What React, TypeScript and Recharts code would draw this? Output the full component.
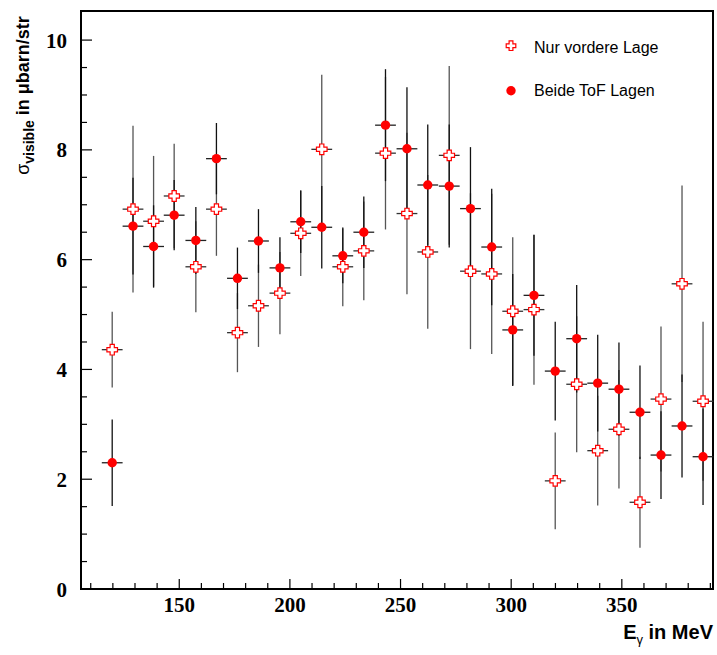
import React from 'react';
import { ScatterChart, Scatter, XAxis, YAxis, ErrorBar, ReferenceArea, Legend } from 'recharts';

// Photon energy bin centres (MeV)
const energies = [
  119.7, 129.1, 138.4, 147.7, 157.5, 166.8, 176.3, 185.8, 195.5, 204.9,
  214.4, 223.9, 233.4, 243.2, 252.9, 262.3, 272.0, 281.6, 291.2, 300.7,
  310.3, 319.9, 329.6, 339.1, 348.7, 358.2, 367.7, 377.2, 386.7,
];
// half bin widths (MeV)
const energyHalfWidths = [
  4.7, 4.7, 4.7, 4.7, 4.7, 4.7, 4.7, 4.7, 4.7, 4.7,
  4.7, 4.7, 4.7, 4.7, 4.7, 4.7, 4.7, 4.7, 4.7, 4.7,
  4.7, 4.7, 4.7, 4.7, 4.7, 4.7, 4.7, 4.7, 4.7,
];

// "Nur vordere Lage"
const vordereValues = [
  4.36, 6.92, 6.70, 7.16, 5.87, 6.92, 4.67, 5.16, 5.39, 6.48,
  8.01, 5.87, 6.16, 7.94, 6.84, 6.14, 7.90, 5.79, 5.74, 5.06,
  5.09, 1.97, 3.73, 2.52, 2.91, 1.58, 3.46, 5.56, 3.42,
];
const vordereErrors = [
  0.69, 1.52, 1.19, 0.95, 0.83, 0.85, 0.72, 0.75, 0.75, 0.78,
  1.36, 0.72, 0.90, 1.39, 1.47, 1.40, 1.63, 1.42, 1.46, 1.35,
  1.37, 0.88, 1.24, 1.00, 1.08, 0.83, 1.32, 1.79, 1.45,
];

// "Beide ToF Lagen"
const beideValues = [
  2.30, 6.61, 6.24, 6.81, 6.35, 7.84, 5.66, 6.34, 5.85, 6.69,
  6.59, 6.07, 6.50, 8.45, 8.02, 7.36, 7.34, 6.93, 6.23, 4.72,
  5.35, 3.97, 4.56, 3.75, 3.64, 3.22, 2.44, 2.97, 2.41,
];
const beideErrors = [
  0.79, 0.88, 0.75, 0.64, 0.61, 0.65, 0.56, 0.58, 0.56, 0.57,
  0.75, 0.50, 0.65, 1.02, 1.12, 1.10, 1.12, 1.12, 1.06, 1.02,
  1.10, 0.90, 0.98, 0.88, 0.85, 0.85, 0.80, 0.94, 0.88,
];

const xTicks = [110, 120, 130, 140, 150, 160, 170, 180, 190, 200, 210, 220, 230, 240, 250, 260, 270, 280, 290, 300, 310, 320, 330, 340, 350, 360, 370, 380, 390];
const xTickLabels = [150, 200, 250, 300, 350];
const yTicks = [0, 0.5, 1, 1.5, 2, 2.5, 3, 3.5, 4, 4.5, 5, 5.5, 6, 6.5, 7, 7.5, 8, 8.5, 9, 9.5, 10];
const yTickLabels = [0, 2, 4, 6, 8, 10];

const xDomain: [number, number] = [105.6, 391.2];
const yDomain: [number, number] = [0, 10.53];

const vordereData = energies.map((x, i) => ({ x, y: vordereValues[i], ey: vordereErrors[i], ex: energyHalfWidths[i] }));
const beideData = energies.map((x, i) => ({ x, y: beideValues[i], ey: beideErrors[i], ex: energyHalfWidths[i] }));

const RED = '#ff0000';
const TICK_FONT = '"Liberation Serif", "Times New Roman", serif';
const SANS = '"Liberation Sans", Arial, sans-serif';

function crossPath(cx: number, cy: number, s: number, a: number) {
  return `M${cx - a},${cy - s} L${cx + a},${cy - s} L${cx + a},${cy - a} L${cx + s},${cy - a} L${cx + s},${cy + a} L${cx + a},${cy + a} L${cx + a},${cy + s} L${cx - a},${cy + s} L${cx - a},${cy + a} L${cx - s},${cy + a} L${cx - s},${cy - a} L${cx - a},${cy - a} Z`;
}

const CrossShape = (props: any) => {
  const { cx, cy } = props;
  if (cx == null || cy == null) return <g />;
  return <path d={crossPath(cx, cy, 5.3, 2.1)} fill="#fff" stroke={RED} strokeWidth={1.2} />;
};

const CircleShape = (props: any) => {
  const { cx, cy } = props;
  if (cx == null || cy == null) return <g />;
  return <circle cx={cx} cy={cy} r={4.7} fill={RED} />;
};

const EmptyShape = () => <g />;

const XTick = (props: any) => {
  const { x, y, payload } = props;
  const major = xTickLabels.includes(payload.value);
  return (
    <g>
      <line x1={x} x2={x} y1={y} y2={y - (major ? 10 : 6)} stroke="#000" strokeWidth={1.2} />
      {major && (
        <text x={x} y={y + 23} textAnchor="middle" fontFamily={TICK_FONT} fontWeight="bold" fontSize={21} fill="#000">
          {payload.value}
        </text>
      )}
    </g>
  );
};

const YTick = (props: any) => {
  const { x, y, payload } = props;
  const major = yTickLabels.includes(payload.value);
  return (
    <g>
      <line x1={x} x2={x + (major ? 11 : 6)} y1={y} y2={y} stroke="#000" strokeWidth={1.2} />
      {major && (
        <text x={x - 14} y={y} dy="0.36em" textAnchor="end" fontFamily={TICK_FONT} fontWeight="bold" fontSize={21} fill="#000">
          {payload.value}
        </text>
      )}
    </g>
  );
};

const YLabel = () => (
  <text transform="rotate(-90)" x={-95.5} y={29} textAnchor="middle" fontFamily={SANS} fill="#000" fontSize={18}>
    <tspan>σ</tspan>
    <tspan fontSize={14} fontWeight="bold" dy={5}>visible</tspan>
    <tspan fontWeight="bold" dy={-5}> in μbarn/str</tspan>
  </text>
);

const XLabel = () => (
  <text x={713} y={639} textAnchor="end" fontFamily={SANS} fill="#000" fontSize={20} fontWeight="bold">
    <tspan>E</tspan>
    <tspan fontSize={13} fontWeight="normal" dy={5}>γ</tspan>
    <tspan dy={-5}> in MeV</tspan>
  </text>
);

const LegendBox = () => (
  <svg width={220} height={90} style={{ display: 'block' }}>
    <path d={crossPath(21, 20.7, 4.8, 1.9)} fill="#fff" stroke={RED} strokeWidth={1.2} />
    <text x={44} y={27.7} fontFamily={SANS} fontSize={16} fill="#000">Nur vordere Lage</text>
    <circle cx={21} cy={65.7} r={4.7} fill={RED} />
    <text x={44} y={71} fontFamily={SANS} fontSize={16} fill="#000">Beide ToF Lagen</text>
  </svg>
);

export default function App() {
  return (
    <div style={{ position: 'absolute', left: 0, top: 0, background: '#fff' }}>
      <ScatterChart width={717} height={655} margin={{ top: 11, right: 4, bottom: 0, left: 0 }}>
        <XAxis
          type="number"
          dataKey="x"
          domain={xDomain}
          allowDataOverflow
          ticks={xTicks}
          interval={0}
          tick={<XTick />}
          tickLine={false}
          axisLine={false}
          tickSize={0}
          tickMargin={0}
          height={66}
          label={<XLabel />}
        />
        <YAxis
          type="number"
          dataKey="y"
          domain={yDomain}
          allowDataOverflow
          ticks={yTicks}
          interval={0}
          tick={<YTick />}
          tickLine={false}
          axisLine={false}
          tickSize={0}
          tickMargin={0}
          width={81}
          label={<YLabel />}
        />
        <Legend
          verticalAlign="middle"
          align="center"
          layout="horizontal"
          wrapperStyle={{ left: 490, top: 25, width: 220, height: 90 }}
          content={() => <LegendBox />}
        />
        <Scatter data={vordereData} shape={EmptyShape} isAnimationActive={false} legendType="none">
          <ErrorBar dataKey="ey" direction="y" width={0} stroke="#555" strokeWidth={1.3} />
          <ErrorBar dataKey="ex" direction="x" width={0} stroke="#333" strokeWidth={1.3} />
        </Scatter>
        <Scatter data={beideData} shape={EmptyShape} isAnimationActive={false} legendType="none">
          <ErrorBar dataKey="ey" direction="y" width={0} stroke="#111" strokeWidth={1.3} />
          <ErrorBar dataKey="ex" direction="x" width={0} stroke="#222" strokeWidth={1.3} />
        </Scatter>
        <Scatter name="Nur vordere Lage" data={vordereData} shape={CrossShape} isAnimationActive={false} />
        <Scatter name="Beide ToF Lagen" data={beideData} shape={CircleShape} isAnimationActive={false} />
        <ReferenceArea
          x1={xDomain[0]}
          x2={xDomain[1]}
          y1={yDomain[0]}
          y2={yDomain[1]}
          fill="none"
          stroke="#000"
          strokeWidth={2}
          ifOverflow="visible"
        />
      </ScatterChart>
    </div>
  );
}
